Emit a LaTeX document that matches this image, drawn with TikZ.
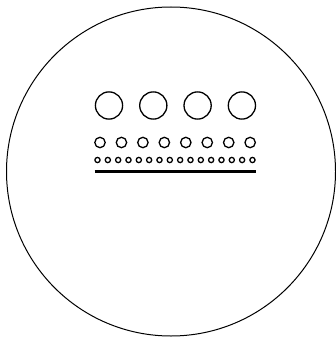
\documentclass[tikz,border=0pt]{standalone}
\usepackage{tikz}

\begin{document}
\begin{tikzpicture}[
      x=1pt, y=-1pt,
      rim/.style={draw, line width=1pt},
      ring/.style={draw, line width=1.3pt},
      bar/.style={draw, line width=2.6pt}
    ]
    \useasboundingbox (0,0) rectangle (335,339);
    \draw[rim] (171,171.5) circle[radius=164.5];
    % large row
    \foreach \i in {0,...,3}
      \draw[ring] (109+44.3*\i,105.5) circle[radius=13.6];
    % medium row
    \foreach \i in {0,...,7}
      \draw[ring] (100+21.45*\i,142.5) circle[radius=5.2];
    % small row
    \foreach \i in {0,...,15}
      \draw[ring] (97.5+10.33*\i,160) circle[radius=2.6];
    \draw[bar] (94.5,171.5) -- (255.5,171.5);
  \end{tikzpicture}
\end{document}
